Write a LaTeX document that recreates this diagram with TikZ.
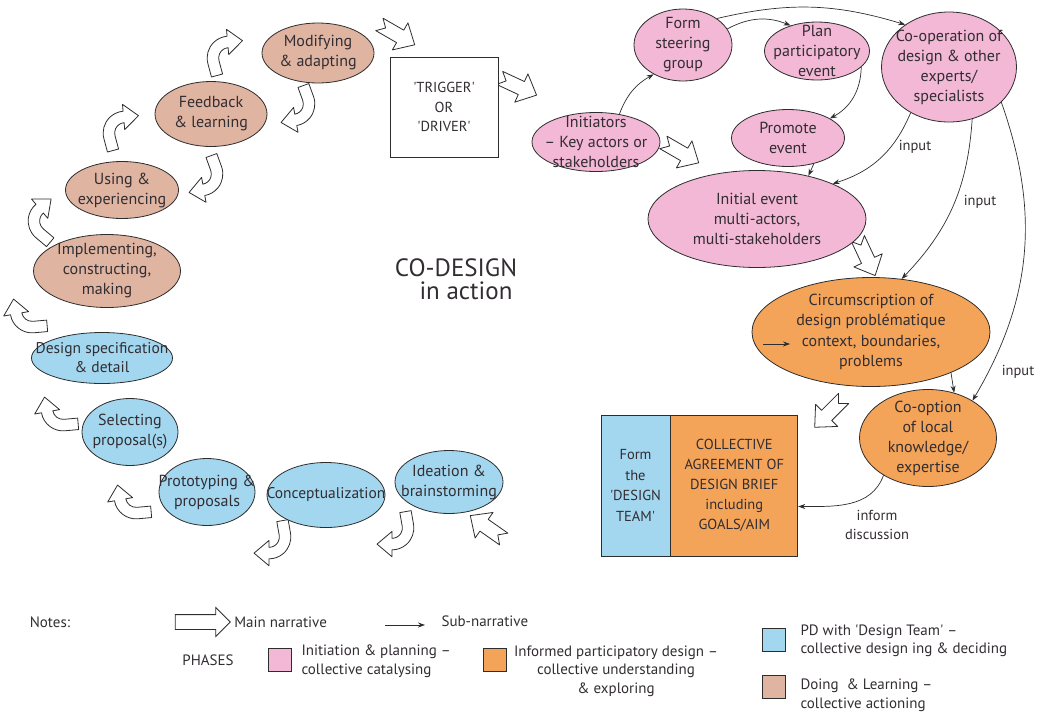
\documentclass[tikz,border=0pt]{standalone}
\usepackage{fontspec}
\setmainfont{PT Sans}
\usetikzlibrary{shapes, arrows}
\usetikzlibrary{arrows.meta,calc}
\usetikzlibrary{positioning}

\begin{document}
\begin{tikzpicture}[x=1pt,y=1pt,
    every node/.style={font=\fontsize{14.5}{19.5}\selectfont, text=txt},
    phase/.style={ellipse, draw=edge, line width=0.8pt, align=center, inner xsep=-40pt, inner ysep=-30pt, font=\fontsize{16}{20}\selectfont},
    doing/.style={phase, fill=tanph},
    pd/.style={phase, fill=blueph},
    init/.style={phase, fill=pinkph},
    informed/.style={phase, fill=orangeph},
    box/.style={rectangle, draw=edge, line width=0.8pt, align=center, inner sep=1pt},
    sub/.style={-{Stealth[length=7pt,width=5pt]}, line width=0.7pt, draw=edge},
    hollow/.style={draw=edge, fill=white, line width=0.8pt, line join=round},
    legend/.style={font=\fontsize{15}{18.5}\selectfont},
    swatch/.style={rectangle, draw=edge, line width=0.8pt, minimum size=23pt, inner sep=0pt},
    pics/carr/.style={code={
      \draw[hollow, scale=1.15] (-19,-12) -- (180:19) arc[start angle=180, end angle=#1, radius=19]
        -- (#1:25) -- ({14*cos(#1)+13*sin(#1)}, {14*sin(#1)-13*cos(#1)}) -- (#1:3) -- (#1:9)
        arc[start angle=#1, end angle=180, radius=9] -- (-9,-12) -- cycle;
    }},
    pics/narr/.style={code={
      \draw[hollow, scale=1.2] (-16,6) -- (4,6) -- (4,13) -- (18,0) -- (4,-13) -- (4,-6) -- (-16,-6) -- (-10,0) -- cycle;
    }}
  ]
    \definecolor{pinkph}{RGB}{242,184,214}
    \definecolor{orangeph}{RGB}{243,164,88}
    \definecolor{blueph}{RGB}{163,215,239}
    \definecolor{tanph}{RGB}{223,180,161}
    \definecolor{edge}{RGB}{45,45,45}
    \definecolor{txt}{RGB}{50,45,50}

    \useasboundingbox (0,0) rectangle (1045,-713);

    % main narrative
    \pic[rotate=-30] at (396,-34) {narr};
    \pic[rotate=-25] at (517,-86) {narr};
    \pic[rotate=-30] at (680,-152) {narr};
    \pic[rotate=-65] at (866,-256) {narr};
    \pic[rotate=-135] at (830,-412) {narr};
    \pic[rotate=145] at (488,-528) {narr};

    \pic[rotate=15] at (125,-133) {carr=80};
    \pic[rotate=15] at (229,-58) {carr=80};
    \pic[rotate=50] at (50,-221) {carr=80};
    \pic[rotate=95] at (32,-311) {carr=95};
    \pic[rotate=200] at (293,-104) {carr=80};
    \pic[rotate=200] at (201,-174) {carr=80};
    \pic[rotate=95] at (63,-409) {carr=95};
    \pic[rotate=95] at (136,-497) {carr=95};
    \pic[rotate=190] at (269,-537) {carr=80};
    \pic[rotate=190] at (392,-528) {carr=80};

    % doing & learning
    \node[doing, minimum width=112pt, minimum height=60pt] (modify) at (318,-53) {Modifying\\\& adapting};
    \node[doing, minimum width=112pt, minimum height=65pt] (feedback) at (211,-114) {Feedback\\\& learning};
    \node[doing, minimum width=113pt, minimum height=57pt] (using) at (122,-190) {Using \&\\experiencing};
    \node[doing, minimum width=147pt, minimum height=73pt] (implement) at (107,-271) {Implementing,\\constructing,\\making};

    % PD with design team
    \node[pd, minimum width=141pt, minimum height=51pt, font=\fontsize{15.5}{19}\selectfont] (spec) at (102,-358) {Design specification\\\& detail};
    \node[pd, minimum width=96pt, minimum height=67pt] (select) at (130,-432) {Selecting\\proposal(s)};
    \node[pd, minimum width=96pt, minimum height=67pt] (proto) at (207,-492) {Prototyping \&\\proposals};
    \node[pd, minimum width=118pt, minimum height=65pt, font=\fontsize{15.5}{20}\selectfont] (concept) at (326,-495) {Conceptualization};
    \node[pd, minimum width=108pt, minimum height=63pt] (ideation) at (449,-482) {Ideation \&\\brainstorming};

    % boxes
    \node[box, fill=white, minimum width=108pt, minimum height=100pt] (trigger) at (444,-107) {\textquotesingle TRIGGER\textquotesingle\\OR\\\textquotesingle DRIVER\textquotesingle};
    \node[box, fill=blueph, minimum width=69pt, minimum height=141pt, font=\fontsize{14.5}{20.5}\selectfont] (team) at (635.5,-485.5) {Form\\the\\\textquotesingle DESIGN\\TEAM\textquotesingle};
    \node[box, fill=orangeph, minimum width=127pt, minimum height=141pt, font=\fontsize{14.5}{20}\selectfont, right=0pt of team] (brief) {COLLECTIVE\\AGREEMENT OF\\DESIGN BRIEF\\including\\GOALS/AIM};

    % initiation & planning
    \node[init, minimum width=98pt, minimum height=72pt] (form) at (683,-45) {Form\\steering\\group};
    \node[init, minimum width=105pt, minimum height=58pt] (plan) at (817,-51) {Plan\\participatory\\event};
    \node[init, minimum width=135pt, minimum height=110pt] (coop) at (949,-67) {Co-operation of\\design \& other\\experts/\\specialists};
    \node[init, minimum width=113pt, minimum height=57pt] (promote) at (788,-138) {Promote\\event};
    \node[init, minimum width=128pt, minimum height=59pt] (initiators) at (596,-142) {Initiators\\-- Key actors or\\stakeholders};
    \node[init, minimum width=218pt, minimum height=97pt] (initial) at (757,-219) {Initial event\\multi-actors,\\multi-stakeholders};

    % informed participatory design
    \node[informed, minimum width=238pt, minimum height=109pt, font=\fontsize{16}{20.3}\selectfont] (circ) at (871,-332) {Circumscription of\\design problématique\\context, boundaries,\\problems};
    \node[informed, minimum width=137pt, minimum height=97pt] (coopt) at (928,-438) {Co-option\\of local\\knowledge/\\expertise};

    \node (codesign) at (456,-268) {\fontsize{25}{26}\selectfont CO-DESIGN};
    \node (inaction) at (466,-291) {\fontsize{25}{26}\selectfont in action};

    % sub-narrative
    \draw[sub] (initiators.50) to[bend left=20] (form.225);
    \draw[sub] (form.20) to[bend left=25] (plan.136);
    \draw[sub] (form.38) to[bend left=15] (coop.136);
    \draw[sub] (plan.-20) to[bend left=30] (promote.25);
    \draw[sub] (promote.-45) -- (initial.40);
    \draw[sub] (coop.-130) to[bend left=25] (initial.25);
    \draw[sub] (coop.-66) to[bend left=20] (circ.60);
    \draw[sub] (coop.-34) to[bend left=25] (coopt.40);
    \draw[sub] (circ.-27) -- (coopt.60);
    \draw[sub] (coopt.-140) to[out=-110, in=0] ([yshift=-21pt]brief.east);
    \coordinate (ctxa) at (763,-344);
    \coordinate (ctxb) at (790,-344);
    \draw[sub] (ctxa) -- (ctxb);

    \node (input1) at (915,-147) {input};
    \node (input2) at (980,-202) {input};
    \node (input3) at (1018,-372) {input};
    \node[align=center] (inform) at (877,-525) {inform\\discussion};

    % legend
    \node[legend] (notes) at (50,-622) {Notes:};
    \node[single arrow, draw=edge, line width=0.8pt, fill=white, minimum height=55pt, inner sep=7pt, single arrow head extend=7pt] (mainarr) at (199,-622) {};
    \node[legend, right=0pt of mainarr] (maintext) {Main narrative};
    \coordinate (subA) at (385,-625);
    \coordinate (subB) at (425,-625);
    \draw[sub] (subA) -- (subB);
    \node[legend, anchor=west] (subtext) at (438,-621) {Sub-narrative};

    \node[legend] (phases) at (208,-660) {PHASES};
    \node[swatch, fill=pinkph] (swpink) at (280,-660) {};
    \node[legend, anchor=west, align=left] (pinktext) at (298,-661) {Initiation \& planning --\\collective catalysing};
    \node[swatch, fill=orangeph] (sworange) at (495,-660) {};
    \node[legend, align=center] (orangetext) at (616,-671) {Informed participatory design --\\collective understanding\\\& exploring};
    \node[swatch, fill=blueph] (swblue) at (774,-640) {};
    \node[legend, anchor=west, align=left] (bluetext) at (797,-641) {PD with \textquotesingle Design Team\textquotesingle\ --\\collective design ing \& deciding};
    \node[swatch, fill=tanph] (swtan) at (774,-687) {};
    \node[legend, anchor=west, align=left] (tantext) at (797,-695) {Doing~ \& Learning --\\collective actioning};
\end{tikzpicture}
\end{document}
